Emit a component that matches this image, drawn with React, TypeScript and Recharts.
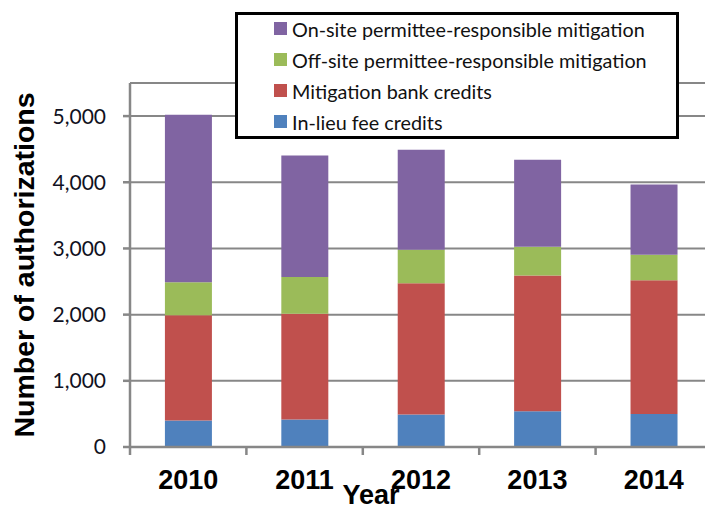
import React from "react";
import { BarChart, Bar, XAxis, YAxis, CartesianGrid, Legend, Label } from "recharts";

const years = ["2010", "2011", "2012", "2013", "2014"];
const inLieu = [400, 415, 490, 540, 500];
const bankCredits = [1590, 1600, 1985, 2050, 2020];
const offSite = [500, 555, 505, 435, 385];
const onSite = [2530, 1835, 1510, 1315, 1060];
const yTicks = [0, 1000, 2000, 3000, 4000, 5000];

const seriesNames = {
  inLieu: "In-lieu fee credits",
  bank: "Mitigation bank credits",
  offSite: "Off-site permittee-responsible mitigation",
  onSite: "On-site permittee-responsible mitigation",
};
const colors = { inLieu: "#4F81BD", bank: "#C0504D", offSite: "#9BBB59", onSite: "#8064A2" };

const data = years.map((y, i) => ({
  year: y,
  inLieu: inLieu[i],
  bank: bankCredits[i],
  offSite: offSite[i],
  onSite: onSite[i],
}));

const CHART_W = 712;
const CHART_H = 510;
const PLOT_LEFT = 130;
const MARGIN = { top: 83, right: 0, bottom: 0, left: 0 };
const X_AXIS_H = 63;
const BAND = (CHART_W - PLOT_LEFT - MARGIN.right) / years.length;
const AXIS_GRAY = "#878787";

const XTick = (props: any) => {
  const { x, y, payload, index } = props;
  const axisY = y - 10;
  const half = BAND / 2;
  return (
    <g>
      <line x1={x - half} y1={axisY} x2={x - half} y2={axisY + 8} stroke={AXIS_GRAY} strokeWidth={2.5} />
      {index === years.length - 1 && (
        <line x1={x + half} y1={axisY} x2={x + half} y2={axisY + 8} stroke={AXIS_GRAY} strokeWidth={2.5} />
      )}
      <text
        x={x}
        y={y}
        dy={32}
        textAnchor="middle"
        fontFamily="'Liberation Sans', Arial, sans-serif"
        fontWeight="bold"
        fontSize={27}
        fill="#000"
      >
        {payload.value}
      </text>
    </g>
  );
};

const renderLegend = (props: any) => {
  const items = [...(props.payload || [])].reverse();
  return (
    <div
      style={{
        boxSizing: "border-box",
        width: 444,
        height: 127,
        border: "3px solid #000",
        background: "#fff",
        fontFamily: "Lato, 'Open Sans', sans-serif",
        fontSize: 19.8,
        color: "#111",
      }}
    >
      <div style={{ position: "relative", top: -2 }}>
        {items.map((it: any) => (
          <div key={it.value} style={{ height: 31, display: "flex", alignItems: "center", paddingLeft: 36 }}>
            <span
              style={{ display: "inline-block", width: 13, height: 13, background: it.color, marginRight: 5 }}
            />
            <span>{it.value}</span>
          </div>
        ))}
      </div>
    </div>
  );
};

export default function App() {
  return (
    <div style={{ position: "absolute", left: 0, top: 0, width: 705, height: 510, overflow: "hidden", background: "#fff" }}>
      <BarChart width={CHART_W} height={CHART_H} data={data} margin={MARGIN} barCategoryGap="30%">
        <CartesianGrid vertical={false} stroke={AXIS_GRAY} strokeWidth={2} />
        <XAxis
          dataKey="year"
          height={X_AXIS_H}
          axisLine={{ stroke: AXIS_GRAY, strokeWidth: 2.5 }}
          tickLine={false}
          tickSize={8}
          tickMargin={2}
          tick={<XTick />}
          interval={0}
        >
          <Label
            content={(p: any) => {
              const vb = p.viewBox || { x: PLOT_LEFT, width: 582, y: 447 };
              return (
                <text
                  x={vb.x + vb.width / 2 - 50}
                  y={504}
                  textAnchor="middle"
                  fontFamily="'Liberation Sans', Arial, sans-serif"
                  fontWeight="bold"
                  fontSize={27}
                  fill="#000"
                >
                  Year
                </text>
              );
            }}
          />
        </XAxis>
        <YAxis
          width={PLOT_LEFT}
          domain={[0, 5500]}
          ticks={yTicks}
          interval={0}
          axisLine={{ stroke: AXIS_GRAY, strokeWidth: 2.5 }}
          tickLine={{ stroke: AXIS_GRAY, strokeWidth: 2.5 }}
          tickSize={7}
          tickMargin={17}
          tickFormatter={(v: number) => v.toLocaleString("en-US")}
          tick={{ fontFamily: "Lato, 'Open Sans', sans-serif", fontSize: 21, fill: "#111122" }}
        >
          <Label
            content={(p: any) => {
              const vb = p.viewBox || { x: 0, y: 83, height: 364 };
              const cx = 24;
              const cy = vb.y + vb.height / 2;
              return (
                <text
                  x={cx}
                  y={cy}
                  transform={`rotate(-90, ${cx}, ${cy})`}
                  textAnchor="middle"
                  dominantBaseline="central"
                  fontFamily="'Liberation Sans', Arial, sans-serif"
                  fontWeight="bold"
                  fontSize={28.5}
                  fill="#000"
                >
                  Number of authorizations
                </text>
              );
            }}
          />
        </YAxis>
        <Legend
          layout="vertical"
          verticalAlign="middle"
          align="center"
          content={renderLegend}
          wrapperStyle={{ left: 235, top: 12, width: 444, height: 127 }}
        />
        <Bar dataKey="inLieu" name={seriesNames.inLieu} stackId="a" fill={colors.inLieu} isAnimationActive={false} />
        <Bar dataKey="bank" name={seriesNames.bank} stackId="a" fill={colors.bank} isAnimationActive={false} />
        <Bar dataKey="offSite" name={seriesNames.offSite} stackId="a" fill={colors.offSite} isAnimationActive={false} />
        <Bar dataKey="onSite" name={seriesNames.onSite} stackId="a" fill={colors.onSite} isAnimationActive={false} />
      </BarChart>
    </div>
  );
}
